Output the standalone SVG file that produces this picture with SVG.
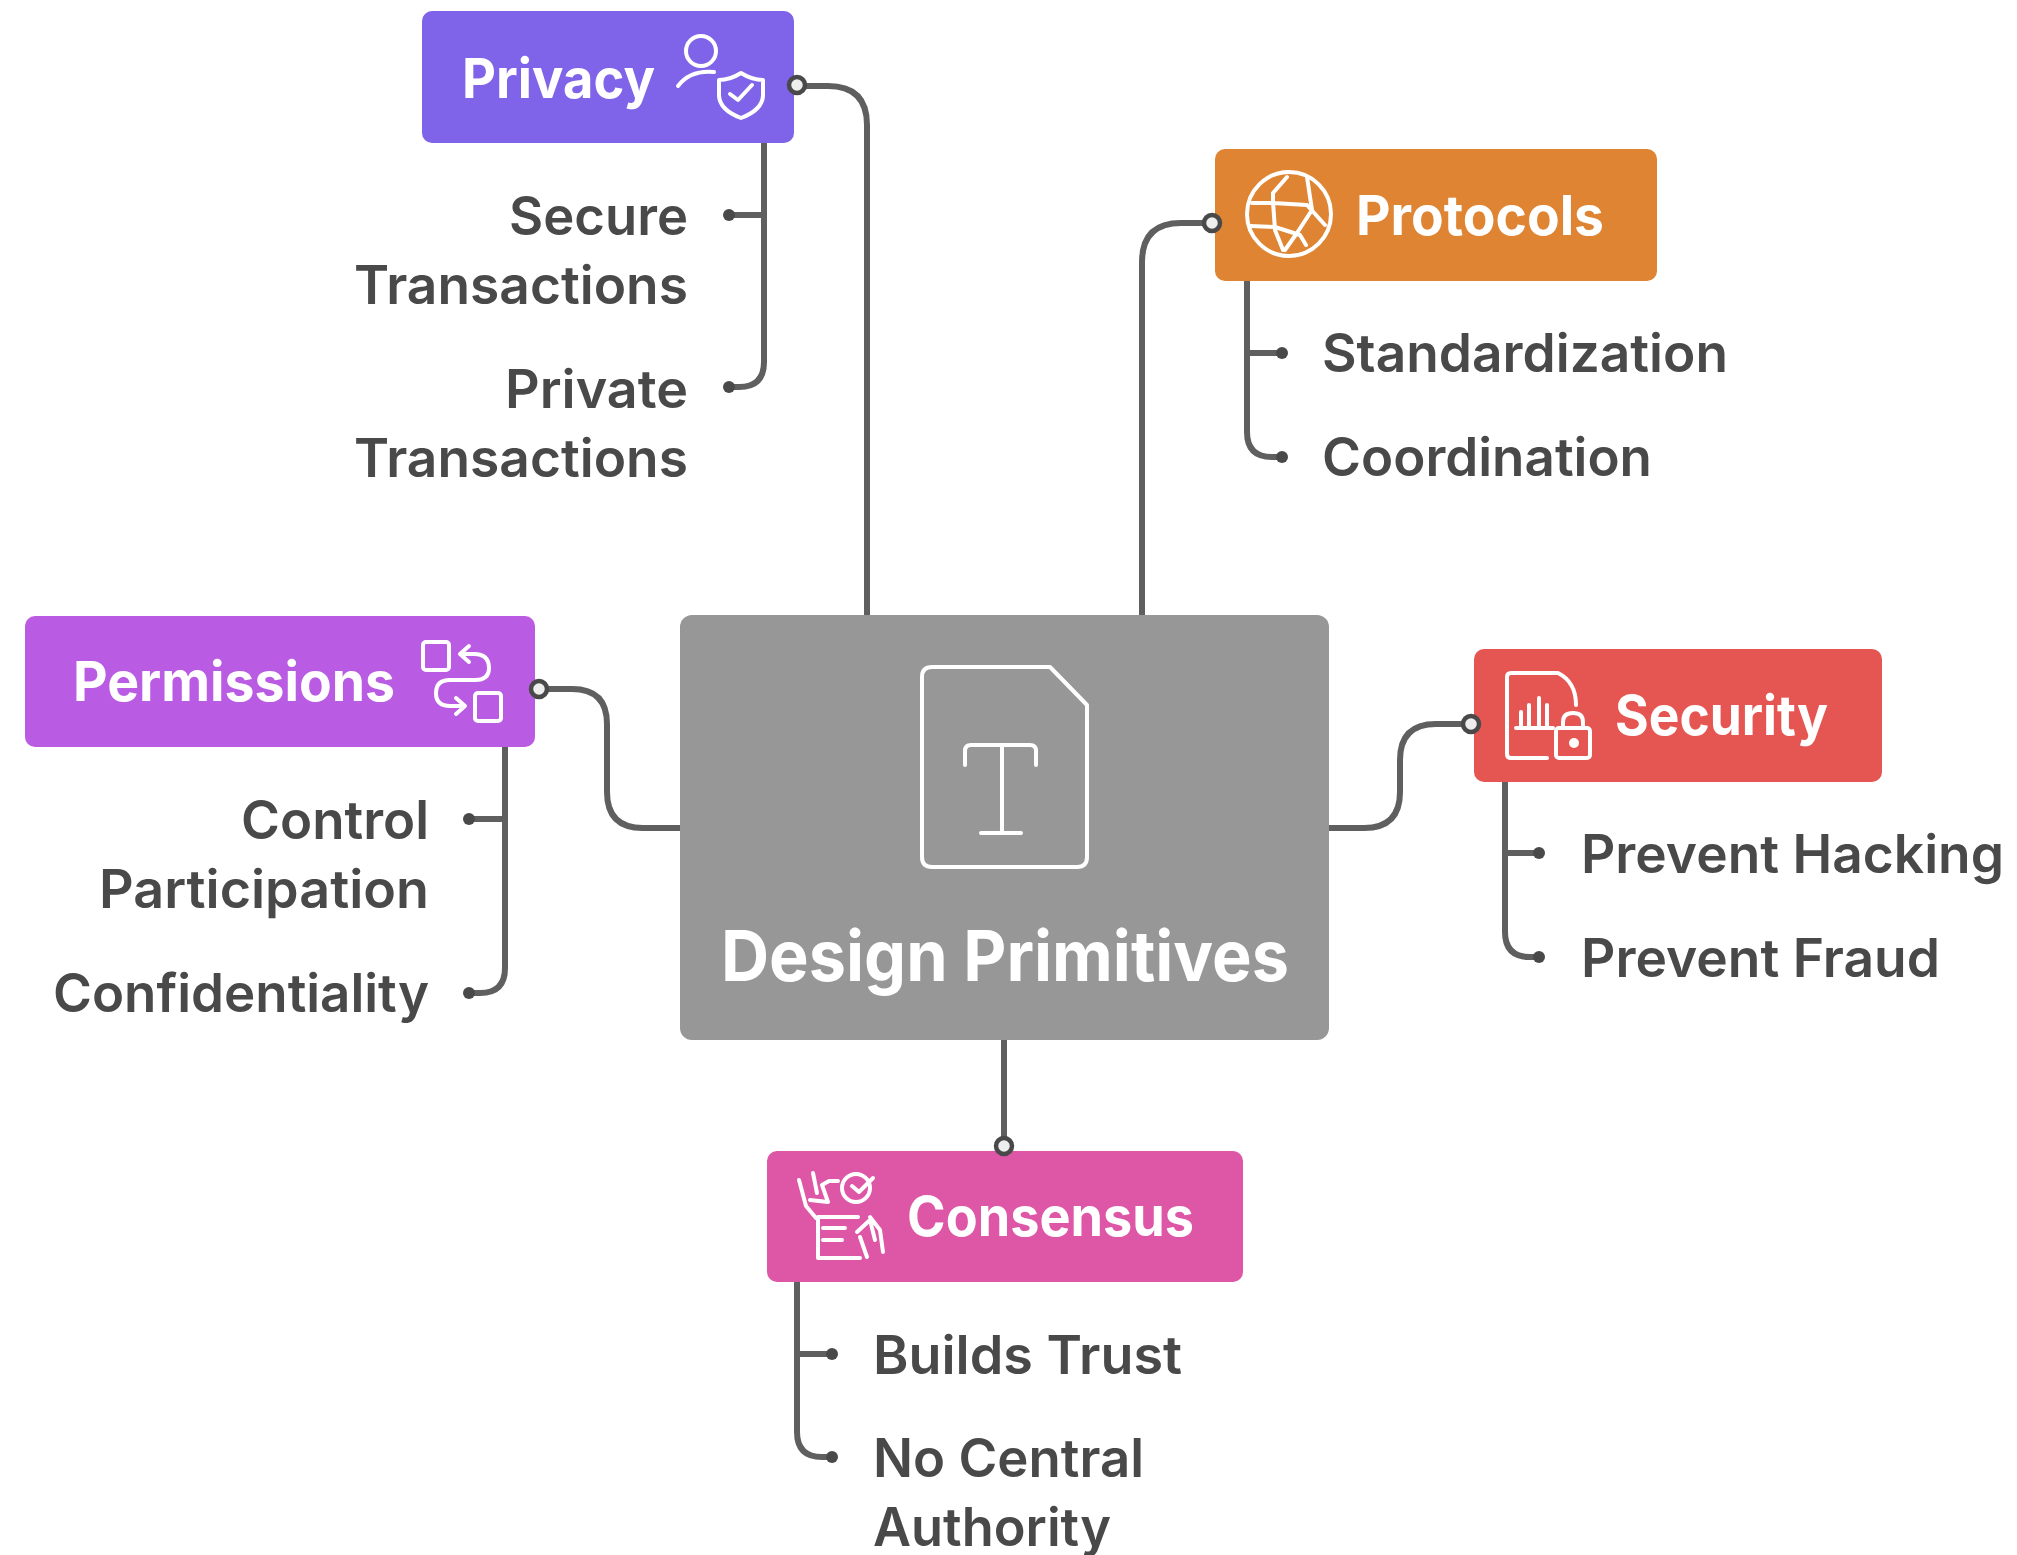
<svg xmlns="http://www.w3.org/2000/svg" width="2017" height="1555" viewBox="0 0 2017 1555">
<style>
.box{stroke:none}
.ic{fill:none;stroke:#fff;stroke-width:4;stroke-linecap:round;stroke-linejoin:round}
.t{font-family:Inter,"Liberation Sans",sans-serif;font-weight:700;fill:#fff;font-size:55px}
.c{font-family:Inter,"Liberation Sans",sans-serif;font-weight:600;fill:#4a4a4a;font-size:53px}
.r{text-anchor:end}
.l{fill:none;stroke:#5e5e5e;stroke-width:6}
.d{fill:#4a4a4a}
.o{fill:#eee;stroke:#4a4a4a;stroke-width:4.5}
</style>
<defs><filter id="soft" x="0" y="0" width="100%" height="100%" filterUnits="userSpaceOnUse" primitiveUnits="userSpaceOnUse"><feGaussianBlur stdDeviation="0.7"/></filter></defs>
<rect width="2017" height="1555" fill="#fff"/>
<g filter="url(#soft)">
<g id="connectors">
<path class="l" d="M797 86H828Q867 86 867 125V618"/>
<path class="l" d="M1212 223H1181Q1142 223 1142 262V618"/>
<path class="l" d="M539 689H572Q607 689 607 724V792Q607 828 643 828H682"/>
<path class="l" d="M1471 724H1436Q1400 724 1400 760V792Q1400 828 1364 828H1327"/>
<path class="l" d="M1004 1038V1146"/>
<path class="l" d="M764 143V362Q764 387 739 387H729M764 215H729"/>
<path class="l" d="M1247 281V432Q1247 457 1272 457H1282M1247 353H1282"/>
<path class="l" d="M505 747V968Q505 993 480 993H469M505 819H469"/>
<path class="l" d="M1505 782V932Q1505 957 1530 957H1539M1505 853H1539"/>
<path class="l" d="M797 1282V1432Q797 1457 822 1457H832M797 1354H832"/>
<g class="d"><circle cx="729" cy="215" r="6"/><circle cx="729" cy="387" r="6"/><circle cx="1282" cy="353" r="6"/><circle cx="1282" cy="457" r="6"/><circle cx="469" cy="819" r="6"/><circle cx="469" cy="993" r="6"/><circle cx="1539" cy="853" r="6"/><circle cx="1539" cy="957" r="6"/><circle cx="832" cy="1354" r="6"/><circle cx="832" cy="1457" r="6"/></g>
</g>
<g id="node-center">
<rect class="box" x="680" y="615" width="649" height="425" rx="12" fill="#979797"/>
<path class="ic" d="M932 667H1050L1087 705V857Q1087 867 1077 867H932Q922 867 922 857V677Q922 667 932 667Z"/>
<path class="ic" d="M965 765V751Q965 745 971 745H1030Q1036 745 1036 751V765M1002 745V832M981 833H1021"/>
<text class="t" x="721" y="981" textLength="568" lengthAdjust="spacingAndGlyphs" style="font-size:70px">Design Primitives</text>
</g>
<g id="node-privacy">
<rect class="box" x="422" y="11" width="372" height="132" rx="10" fill="#7f63e8"/>
<text class="t" x="462" y="98" textLength="193" lengthAdjust="spacingAndGlyphs">Privacy</text>
<circle class="ic" cx="701" cy="51" r="15"/>
<path class="ic" d="M678 86Q690 70 714 72"/>
<path class="ic" d="M741 73Q730 80 719 80V96Q720 110 741 118Q762 110 763 96V80Q752 80 741 73Z"/>
<path class="ic" d="M730 94L738 100L752 85"/>
</g>
<g id="node-protocols">
<rect class="box" x="1215" y="149" width="442" height="132" rx="10" fill="#de8431"/>
<circle class="ic" cx="1289" cy="214" r="42"/>
<path class="ic" d="M1287 177L1273 193V202L1275 230L1283 250M1252 203H1273L1307 205L1325 225M1307 177L1312 210L1297 233L1285 250M1250 226L1275 227L1300 235L1306 245"/>
<text class="t" x="1356" y="235" textLength="248" lengthAdjust="spacingAndGlyphs">Protocols</text>
</g>
<g id="node-permissions">
<rect class="box" x="25" y="616" width="510" height="131" rx="10" fill="#b95ce3"/>
<text class="t" x="73" y="701" textLength="322" lengthAdjust="spacingAndGlyphs">Permissions</text>
<rect class="ic" x="423" y="642" width="26" height="28" rx="3"/>
<rect class="ic" x="475" y="693" width="26" height="28" rx="3"/>
<path class="ic" d="M469 646L460 654L469 662M460 654H474Q489 654 489 668Q489 680 475 680H450Q436 680 436 693Q436 706 450 706H464M456 698L465 706L456 714"/>
</g>
<g id="node-security">
<rect class="box" x="1474" y="649" width="408" height="133" rx="10" fill="#e55753"/>
<path class="ic" d="M1547 758H1511Q1507 758 1507 754V677Q1507 673 1511 673H1558Q1576 682 1576 705"/>
<path class="ic" d="M1516 728H1553M1521 726V712M1529 726V705M1539 726V698M1547 726V705"/>
<rect class="ic" x="1556" y="728" width="34" height="30" rx="3"/>
<path class="ic" d="M1563 728V722Q1563 713 1573 713Q1583 713 1583 722V728"/>
<circle cx="1574" cy="743" r="5" fill="#fff"/>
<text class="t" x="1615" y="735" textLength="213" lengthAdjust="spacingAndGlyphs">Security</text>
</g>
<g id="node-consensus">
<rect class="box" x="767" y="1151" width="476" height="131" rx="10" fill="#de56a6"/>
<path class="ic" d="M818 1217V1258H860M818 1217H858M823 1228H845M823 1240H842"/>
<path class="ic" d="M799 1180L806 1206L816 1218M813 1173L817 1193M810 1200L828 1202L822 1185L829 1181H838"/>
<circle class="ic" cx="856" cy="1188" r="14"/>
<path class="ic" d="M852 1186L859 1192L873 1178M870 1217L880 1230L883 1252M857 1232L870 1220L875 1240M860 1237L867 1257"/>
<text class="t" x="907" y="1236" textLength="287" lengthAdjust="spacingAndGlyphs">Consensus</text>
</g>
<g id="ports">
<circle class="o" cx="797" cy="85" r="8"/><circle class="o" cx="1212" cy="223" r="8"/><circle class="o" cx="539" cy="689" r="8"/><circle class="o" cx="1471" cy="724" r="8"/><circle class="o" cx="1004" cy="1146" r="8"/>
</g>
<g id="labels">
<text class="c" x="509" y="235" textLength="179" lengthAdjust="spacingAndGlyphs">Secure</text><text class="c" x="354" y="304" textLength="334" lengthAdjust="spacingAndGlyphs">Transactions</text>
<text class="c" x="505" y="408" textLength="183" lengthAdjust="spacingAndGlyphs">Private</text><text class="c" x="354" y="477" textLength="334" lengthAdjust="spacingAndGlyphs">Transactions</text>
<text class="c" x="1322" y="372" textLength="406" lengthAdjust="spacingAndGlyphs">Standardization</text><text class="c" x="1322" y="476" textLength="330" lengthAdjust="spacingAndGlyphs">Coordination</text>
<text class="c" x="241" y="839" textLength="188" lengthAdjust="spacingAndGlyphs">Control</text><text class="c" x="99" y="908" textLength="330" lengthAdjust="spacingAndGlyphs">Participation</text>
<text class="c" x="53" y="1012" textLength="376" lengthAdjust="spacingAndGlyphs">Confidentiality</text>
<text class="c" x="1581" y="873" textLength="423" lengthAdjust="spacingAndGlyphs">Prevent Hacking</text><text class="c" x="1581" y="977" textLength="359" lengthAdjust="spacingAndGlyphs">Prevent Fraud</text>
<text class="c" x="873" y="1374" textLength="309" lengthAdjust="spacingAndGlyphs">Builds Trust</text><text class="c" x="873" y="1477" textLength="271" lengthAdjust="spacingAndGlyphs">No Central</text><text class="c" x="873" y="1546" textLength="238" lengthAdjust="spacingAndGlyphs">Authority</text>
</g>
</g>
</svg>
